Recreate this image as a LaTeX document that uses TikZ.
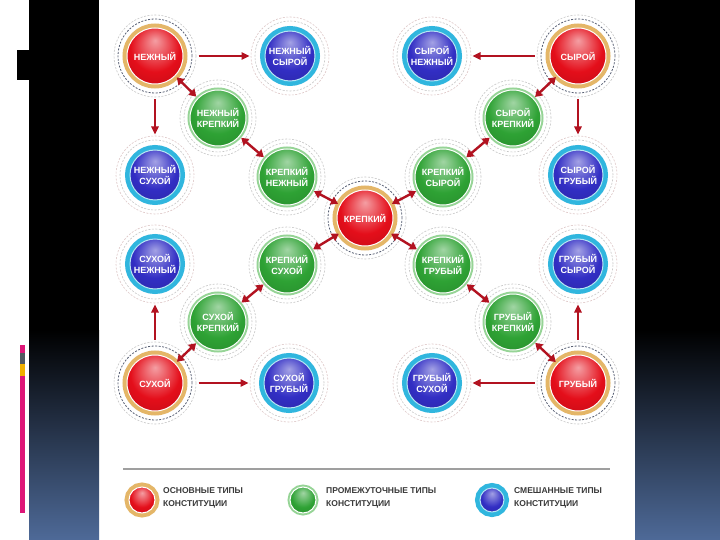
\documentclass[tikz,border=0pt]{standalone}
\usepackage{fontspec}
\newfontfamily\typefont{Liberation Sans}
\usepackage{xcolor}
\usetikzlibrary{arrows.meta}
\definecolor{basered}{RGB}{228,14,26}
\definecolor{mixblue}{RGB}{50,46,196}
\definecolor{midgreen}{RGB}{46,162,52}
\definecolor{goldring}{RGB}{228,182,104}
\definecolor{cyanring}{RGB}{48,182,222}
\definecolor{greenring}{RGB}{150,212,150}
\definecolor{arrowred}{RGB}{178,18,32}
\definecolor{slideblue}{RGB}{78,106,152}
\definecolor{legendgray}{RGB}{58,58,58}
\definecolor{darkdash}{RGB}{88,96,116}
\definecolor{barpink}{RGB}{222,22,120}
\definecolor{bargray}{RGB}{80,88,96}
\definecolor{baryellow}{RGB}{240,176,0}
\pgfdeclareradialshading{glossred}{\pgfpoint{0bp}{14bp}}{color(0bp)=(basered!40!white); color(22bp)=(basered); color(44bp)=(basered!80!black); color(50bp)=(basered!55!black)}
\pgfdeclareradialshading{glossblue}{\pgfpoint{0bp}{14bp}}{color(0bp)=(mixblue!45!white); color(22bp)=(mixblue); color(44bp)=(mixblue!80!black); color(50bp)=(mixblue!55!black)}
\pgfdeclareradialshading{glossgreen}{\pgfpoint{0bp}{14bp}}{color(0bp)=(midgreen!45!white); color(22bp)=(midgreen); color(44bp)=(midgreen!80!black); color(50bp)=(midgreen!55!black)}

\begin{document}
\begin{tikzpicture}[x=1pt, y=-1pt,
  basic/.style={circle, inner sep=0pt, minimum size=56pt, shade, shading=glossred,
    draw=white, line width=1pt, preaction={draw=goldring, line width=9pt},
    text=white, align=center, font=\typefont\bfseries\fontsize{9}{11.5}\selectfont},
  mixed/.style={circle, inner sep=0pt, minimum size=50pt, shade, shading=glossblue,
    draw=cyanring!35, line width=1pt, preaction={draw=cyanring, line width=10pt},
    text=white, align=center, font=\typefont\bfseries\fontsize{9}{11.5}\selectfont},
  inter/.style={circle, inner sep=0pt, minimum size=56pt, shade, shading=glossgreen,
    draw=white, line width=1pt, preaction={draw=greenring, line width=5pt},
    text=white, align=center, font=\typefont\bfseries\fontsize{9}{11.5}\selectfont},
  darkring/.style={draw=darkdash, line width=0.8pt, dash pattern=on 2pt off 1.5pt},
  lightring/.style={draw=gray!45, line width=0.6pt, dash pattern=on 2pt off 1.5pt},
  pinkring/.style={draw=red!25!gray!35, line width=0.6pt, dash pattern=on 2pt off 1.5pt},
  arr/.style={-{Triangle[length=8pt, width=7.5pt]}, arrowred, line width=1.6pt,
    shorten <=15pt, shorten >=15pt},
  duo/.style={{Triangle[length=7pt, width=8.5pt]}-{Triangle[length=7pt, width=8.5pt]},
    arrowred, line width=2.4pt, shorten <=2pt, shorten >=2pt},
  legtext/.style={anchor=west, align=left, text=legendgray, inner sep=0pt,
    font=\typefont\bfseries\fontsize{8.5}{13}\selectfont}]
\useasboundingbox (0,0) rectangle (720,540);
\fill[white] (0,0) rectangle (720,540);
\fill[black] (29,0) rectangle (99,330);
\shade[top color=black, bottom color=slideblue] (29,330) rectangle (99,540);
\fill[black] (635,0) rectangle (720,330);
\shade[top color=black, bottom color=slideblue] (635,330) rectangle (720,540);
\fill[black] (17,50) rectangle (29,80);
\fill[barpink] (20,345) rectangle (25,353);
\fill[bargray] (20,353) rectangle (25,364);
\fill[baryellow] (20,364) rectangle (25,376);
\fill[barpink] (20,376) rectangle (25,513);

\node[basic] (nezh) at (155,56) {НЕЖНЫЙ};
\node[mixed] (nezhsyr) at (290,56) {НЕЖНЫЙ\\СЫРОЙ};
\node[mixed] (syrnezh) at (432,56) {СЫРОЙ\\НЕЖНЫЙ};
\node[basic] (syr) at (578,56) {СЫРОЙ};
\node[inter] (nezhkrep) at (218,118) {НЕЖНЫЙ\\КРЕПКИЙ};
\node[inter] (syrkrep) at (513,118) {СЫРОЙ\\КРЕПКИЙ};
\node[mixed] (nezhsuh) at (155,175) {НЕЖНЫЙ\\СУХОЙ};
\node[inter] (krepnezh) at (287,177) {КРЕПКИЙ\\НЕЖНЫЙ};
\node[inter] (krepsyr) at (443,177) {КРЕПКИЙ\\СЫРОЙ};
\node[mixed] (syrgrub) at (578,175) {СЫРОЙ\\ГРУБЫЙ};
\node[basic] (krep) at (365,218) {КРЕПКИЙ};
\node[mixed] (suhnezh) at (155,264) {СУХОЙ\\НЕЖНЫЙ};
\node[inter] (krepsuh) at (287,265) {КРЕПКИЙ\\СУХОЙ};
\node[inter] (krepgrub) at (443,265) {КРЕПКИЙ\\ГРУБЫЙ};
\node[mixed] (grubsyr) at (578,264) {ГРУБЫЙ\\СЫРОЙ};
\node[inter] (suhkrep) at (218,322) {СУХОЙ\\КРЕПКИЙ};
\node[inter] (grubkrep) at (513,322) {ГРУБЫЙ\\КРЕПКИЙ};
\node[basic] (suh) at (155,383) {СУХОЙ};
\node[mixed] (suhgrub) at (289,383) {СУХОЙ\\ГРУБЫЙ};
\node[mixed] (grubsuh) at (432,383) {ГРУБЫЙ\\СУХОЙ};
\node[basic] (grub) at (578,383) {ГРУБЫЙ};

\foreach \n in {nezh,syr,krep,suh,grub}{
  \draw[darkring] (\n.center) circle[radius=37pt];
  \draw[lightring] (\n.center) circle[radius=41pt];}
\foreach \n in {nezhsyr,syrnezh,nezhsuh,syrgrub,suhnezh,grubsyr,suhgrub,grubsuh}{
  \draw[lightring] (\n.center) circle[radius=35pt];
  \draw[pinkring] (\n.center) circle[radius=39pt];}
\foreach \n in {nezhkrep,syrkrep,krepnezh,krepsyr,krepsuh,krepgrub,suhkrep,grubkrep}{
  \draw[lightring] (\n.center) circle[radius=34pt];
  \draw[lightring] (\n.center) circle[radius=38pt];}

\draw[arr] (nezh) -- (nezhsyr);
\draw[arr] (nezh) -- (nezhsuh);
\draw[arr] (syr) -- (syrnezh);
\draw[arr] (syr) -- (syrgrub);
\draw[arr] (suh) -- (suhnezh);
\draw[arr] (suh) -- (suhgrub);
\draw[arr] (grub) -- (grubsyr);
\draw[arr] (grub) -- (grubsuh);
\draw[duo] (nezh) -- (nezhkrep);
\draw[duo] (nezhkrep) -- (krepnezh);
\draw[duo] (krepnezh) -- (krep);
\draw[duo] (syr) -- (syrkrep);
\draw[duo] (syrkrep) -- (krepsyr);
\draw[duo] (krepsyr) -- (krep);
\draw[duo] (suh) -- (suhkrep);
\draw[duo] (suhkrep) -- (krepsuh);
\draw[duo] (krepsuh) -- (krep);
\draw[duo] (grub) -- (grubkrep);
\draw[duo] (grubkrep) -- (krepgrub);
\draw[duo] (krepgrub) -- (krep);

\coordinate (ruleL) at (123,469);
\coordinate (ruleR) at (610,469);
\draw[gray!75, line width=2pt] (ruleL) -- (ruleR);
\node[basic, minimum size=26pt] (legbasic) at (142,500) {};
\node[inter, minimum size=26pt] (leginter) at (303,500) {};
\node[mixed, minimum size=24pt] (legmixed) at (492,500) {};
\node[legtext] (legbasictxt) at (163,498) {ОСНОВНЫЕ ТИПЫ\\КОНСТИТУЦИИ};
\node[legtext] (leginteretxt) at (326,498) {ПРОМЕЖУТОЧНЫЕ ТИПЫ\\КОНСТИТУЦИИ};
\node[legtext] (legmixedtxt) at (514,498) {СМЕШАННЫЕ ТИПЫ\\КОНСТИТУЦИИ};
\end{tikzpicture}
\end{document}
